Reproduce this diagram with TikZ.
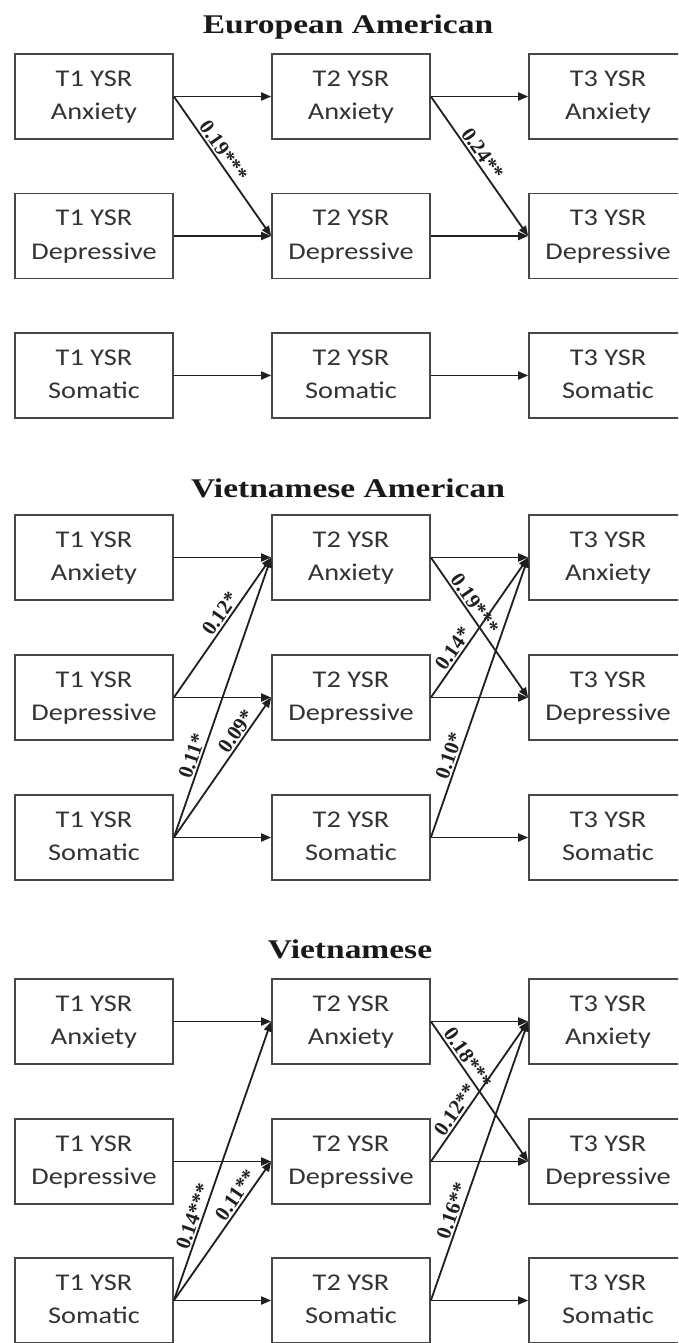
\documentclass[tikz,border=0pt]{standalone}
\usepackage{graphicx}
\usepackage{fontspec}
\setmainfont{Liberation Serif}
\newfontfamily\boxfont{Carlito}
\usetikzlibrary{arrows.meta}
\newcommand{\bxt}[2]{\scalebox{1.18}[1]{\begin{tabular}{@{}c@{}}#1\\#2\end{tabular}}}
\newcommand{\ttl}[1]{\scalebox{1.24}[1]{#1}}
\begin{document}
\begin{tikzpicture}[x=1pt,y=-1pt,
  vbox/.style={draw=black!72, line width=1.7pt, minimum width=158pt, minimum height=85pt,
    inner sep=0pt, text=black!80, font=\boxfont\fontsize{24}{33.5}\selectfont},
  ttlnode/.style={anchor=base, inner sep=0pt, font=\bfseries\fontsize{27}{30}\selectfont, text=black!90},
  arr/.style={draw=black!88, line width=1.8pt, -{Triangle[length=10pt,width=8pt]}},
  lab/.style={sloped, above, inner sep=1.5pt, text=black!88, font=\bfseries\fontsize{21}{21}\selectfont}
]
\useasboundingbox (0,0) rectangle (678,1343);
\fill[white] (0,0) rectangle (678,1343);
\clip (0,0) rectangle (678,1343);

% ---------------- European American ----------------
\node[ttlnode] (tE) at (348,34) {\ttl{European American}};
\node[vbox] (eA1) at (94,96.5) {\bxt{T1 YSR}{Anxiety}};
\node[vbox] (eA2) at (351,96.5) {\bxt{T2 YSR}{Anxiety}};
\node[vbox] (eA3) at (608,96.5) {\bxt{T3 YSR}{Anxiety}};
\node[vbox] (eD1) at (94,236) {\bxt{T1 YSR}{Depressive}};
\node[vbox] (eD2) at (351,236) {\bxt{T2 YSR}{Depressive}};
\node[vbox] (eD3) at (608,236) {\bxt{T3 YSR}{Depressive}};
\node[vbox] (eS1) at (94,375.5) {\bxt{T1 YSR}{Somatic}};
\node[vbox] (eS2) at (351,375.5) {\bxt{T2 YSR}{Somatic}};
\node[vbox] (eS3) at (608,375.5) {\bxt{T3 YSR}{Somatic}};
\draw[arr] (eA1.east) -- (eA2.west);
\draw[arr] (eA2.east) -- (eA3.west);
\draw[arr] (eD1.east) -- (eD2.west);
\draw[arr] (eD2.east) -- (eD3.west);
\draw[arr] (eS1.east) -- (eS2.west);
\draw[arr] (eS2.east) -- (eS3.west);
\draw[arr] (eA1.east) -- node[lab,pos=0.43]{0.19***} (eD2.west);
\draw[arr] (eA2.east) -- node[lab,pos=0.45]{0.24**} (eD3.west);

% ---------------- Vietnamese American ----------------
\node[ttlnode] (tVA) at (348,497) {\ttl{Vietnamese American}};
\node[vbox] (vaA1) at (94,557.5) {\bxt{T1 YSR}{Anxiety}};
\node[vbox] (vaA2) at (351,557.5) {\bxt{T2 YSR}{Anxiety}};
\node[vbox] (vaA3) at (608,557.5) {\bxt{T3 YSR}{Anxiety}};
\node[vbox] (vaD1) at (94,697.5) {\bxt{T1 YSR}{Depressive}};
\node[vbox] (vaD2) at (351,697.5) {\bxt{T2 YSR}{Depressive}};
\node[vbox] (vaD3) at (608,697.5) {\bxt{T3 YSR}{Depressive}};
\node[vbox] (vaS1) at (94,837.5) {\bxt{T1 YSR}{Somatic}};
\node[vbox] (vaS2) at (351,837.5) {\bxt{T2 YSR}{Somatic}};
\node[vbox] (vaS3) at (608,837.5) {\bxt{T3 YSR}{Somatic}};
\draw[arr] (vaA1.east) -- (vaA2.west);
\draw[arr] (vaA2.east) -- (vaA3.west);
\draw[arr] (vaD1.east) -- (vaD2.west);
\draw[arr] (vaD2.east) -- (vaD3.west);
\draw[arr] (vaS1.east) -- (vaS2.west);
\draw[arr] (vaS2.east) -- (vaS3.west);
\draw[arr] (vaD1.east) -- node[lab,pos=0.56]{0.12*} (vaA2.west);
\draw[arr] (vaS1.east) -- node[lab,pos=0.28]{0.11*} (vaA2.west);
\draw[arr] (vaS1.east) -- node[lab,pos=0.72]{0.09*} (vaD2.west);
\draw[arr] (vaA2.east) -- node[lab,pos=0.37]{0.19***} (vaD3.west);
\draw[arr] (vaD2.east) -- node[lab,pos=0.31]{0.14*} (vaA3.west);
\draw[arr] (vaS2.east) -- node[lab,pos=0.28]{0.10*} (vaA3.west);

% ---------------- Vietnamese ----------------
\node[ttlnode] (tV) at (350,958) {\ttl{Vietnamese}};
\node[vbox] (vA1) at (94,1021.5) {\bxt{T1 YSR}{Anxiety}};
\node[vbox] (vA2) at (351,1021.5) {\bxt{T2 YSR}{Anxiety}};
\node[vbox] (vA3) at (608,1021.5) {\bxt{T3 YSR}{Anxiety}};
\node[vbox] (vD1) at (94,1161.5) {\bxt{T1 YSR}{Depressive}};
\node[vbox] (vD2) at (351,1161.5) {\bxt{T2 YSR}{Depressive}};
\node[vbox] (vD3) at (608,1161.5) {\bxt{T3 YSR}{Depressive}};
\node[vbox] (vS1) at (94,1300.5) {\bxt{T1 YSR}{Somatic}};
\node[vbox] (vS2) at (351,1300.5) {\bxt{T2 YSR}{Somatic}};
\node[vbox] (vS3) at (608,1300.5) {\bxt{T3 YSR}{Somatic}};
\draw[arr] (vA1.east) -- (vA2.west);
\draw[arr] (vA2.east) -- (vA3.west);
\draw[arr] (vD1.east) -- (vD2.west);
\draw[arr] (vD2.east) -- (vD3.west);
\draw[arr] (vS1.east) -- (vS2.west);
\draw[arr] (vS2.east) -- (vS3.west);
\draw[arr] (vS1.east) -- node[lab,pos=0.29]{0.14***} (vA2.west);
\draw[arr] (vS1.east) -- node[lab,pos=0.72]{0.11**} (vD2.west);
\draw[arr] (vA2.east) -- node[lab,pos=0.30]{0.18***} (vD3.west);
\draw[arr] (vD2.east) -- node[lab,pos=0.33]{0.12**} (vA3.west);
\draw[arr] (vS2.east) -- node[lab,pos=0.31]{0.16**} (vA3.west);
\end{tikzpicture}
\end{document}
